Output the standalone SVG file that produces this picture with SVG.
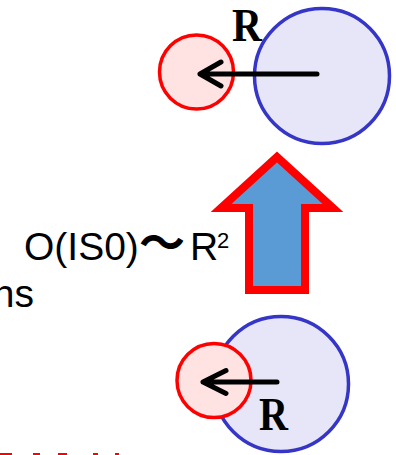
<svg xmlns="http://www.w3.org/2000/svg" width="396" height="455" viewBox="0 0 396 455">
<style>
.small{fill:#FFE3E3;stroke:#FF0000;stroke-width:3.5}
.big{fill:#E6E6F8;stroke:#3535C8;stroke-width:3.5}
.rad{fill:none;stroke:#000;stroke-width:5;stroke-linecap:round;stroke-linejoin:round}
.lbl{font-family:"Liberation Serif",serif;font-weight:bold;font-size:46px;fill:#000}
.txt{font-family:"Liberation Sans",Arial,sans-serif;font-size:39px;fill:#000}
.sup{font-family:"Liberation Sans",Arial,sans-serif;font-size:22px;fill:#000}
</style>
<rect width="396" height="455" fill="#fff"/>
<g id="top-pair">
  <circle class="small" cx="196.5" cy="72" r="37"/>
  <circle class="big" cx="322" cy="76" r="67.5"/>
  <text class="lbl" x="232" y="41" textLength="30" lengthAdjust="spacingAndGlyphs">R</text>
</g>
<g id="block-arrow">
  <path d="M277,157 L333,208 L305,208 L305,290 L249,290 L249,208 L221,208 Z" fill="#5B9BD5" stroke="#FF0000" stroke-width="8" stroke-linejoin="miter"/>
</g>
<g id="formula">
  <text class="txt" x="24" y="260">O(IS0)</text>
  <text x="139" y="259" font-family="'Noto Sans CJK JP','Noto Sans CJK SC',sans-serif" font-weight="700" font-size="46px" fill="#000">～</text>
  <text class="txt" x="190" y="260">R</text>
  <text class="sup" x="217" y="248">2</text>
  <text class="txt" x="34" y="307" text-anchor="end">ns</text>
</g>
<g id="bottom-pair">
  <circle class="big" cx="281" cy="384" r="67.5"/>
  <circle class="small" cx="214" cy="380.5" r="37"/>
  <text class="lbl" x="259" y="430" textLength="29" lengthAdjust="spacingAndGlyphs">R</text>
</g>
<g id="connectors">
  <path class="rad" d="M317,74 L200,74 M221,62 L200,74 L221,86"/>
  <path class="rad" d="M277,382 L203,382 M226,370.5 L203,382 L226,393.5"/>
</g>
<g id="red-fragment" fill="#FF0000">
  <rect x="0" y="453" width="12" height="2"/>
  <rect x="33" y="453" width="7" height="2"/>
  <rect x="58" y="453" width="9" height="2"/>
  <rect x="93" y="453" width="5" height="2"/>
  <rect x="115" y="453" width="4" height="2"/>
</g>
</svg>
